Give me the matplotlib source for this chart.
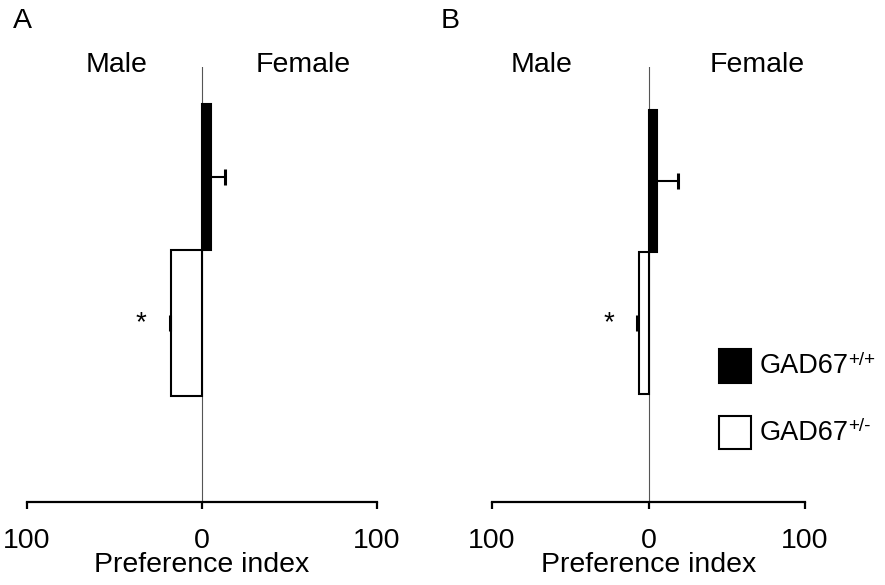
import matplotlib
matplotlib.use("Agg")
import matplotlib.pyplot as plt
from matplotlib.patches import Rectangle

plt.rcParams['font.family'] = ['Liberation Sans', 'DejaVu Sans']

# Data (preference index, negative = male side)
genotypes = ['GAD67', 'GAD67']
genotype_sup = ['+/+', '+/-']
bar_colors = ['black', 'white']
a_values = [5.0, -17.5]
a_err = [8.3, 1.0]
b_values = [5.2, -6.2]
b_err = [13.5, 1.3]
tick_vals = [-100, 0, 100]
tick_labels = ['100', '0', '100']

W, H = 885, 585
fig = plt.figure(figsize=(W / 100, H / 100), dpi=100)


def px_rect(x0, y0, x1, y1):
    return [x0 / W, 1 - y1 / H, (x1 - x0) / W, (y1 - y0) / H]


def draw_panel(ax, values, errs, ylim):
    ypos = list(range(len(values)))
    ax.barh(ypos, values, height=1.0, color=bar_colors, edgecolor='black',
            linewidth=1.5, zorder=3)
    for y, v, e in zip(ypos, values, errs):
        # one-sided error bar pointing away from zero, cap only at the end
        end = v + e if v > 0 else v - e
        ax.hlines(y, v, end, color='black', linewidth=1.5, zorder=4)
        ax.plot([end], [y], marker='|', markersize=11, markeredgewidth=2.2,
                color='black', zorder=4)
    ax.axvline(0, color='#555555', linewidth=0.8, zorder=2)
    ax.set_xlim(-100, 100)
    ax.set_ylim(*ylim)
    for s in ['left', 'top', 'right']:
        ax.spines[s].set_visible(False)
    ax.spines['bottom'].set_linewidth(1.6)
    ax.set_yticks([])
    ax.set_xticks(tick_vals)
    ax.set_xticklabels(tick_labels, fontsize=20.5)
    ax.tick_params(axis='x', direction='out', length=5, width=1.6, pad=13.5)
    ax.set_xlabel('Preference index', fontsize=20.5, labelpad=-1)


ax_a = fig.add_axes(px_rect(27, 67, 377, 502))
draw_panel(ax_a, a_values, a_err, (2.226, -0.753))
ax_a.text(-35, 1, '*', fontsize=20, ha='center', va='center')

ax_b = fig.add_axes(px_rect(492, 67, 805, 502))
draw_panel(ax_b, b_values, b_err, (2.26, -0.803))
ax_b.text(-25.6, 1, '*', fontsize=20, ha='center', va='center')

# panel letters and side labels
fig.text(13 / W, 1 - 21 / H, 'A', fontsize=20.5, ha='left', va='center')
fig.text(441 / W, 1 - 21 / H, 'B', fontsize=20.5, ha='left', va='center')
for x, s in [(117, 'Male'), (303, 'Female'), (542, 'Male'), (757, 'Female')]:
    fig.text(x / W, 1 - 65 / H, s, fontsize=20.5, ha='center', va='center')

# legend drawn by hand: square patch, label, superscript genotype
for (y0, y1), c, lab, sup in zip([(349, 383), (416, 449)], bar_colors,
                                 genotypes, genotype_sup):
    fig.add_artist(Rectangle((719 / W, 1 - y1 / H), 32 / W, (y1 - y0) / H,
                             transform=fig.transFigure, facecolor=c,
                             edgecolor='black', linewidth=1.5))
    t = fig.text(760 / W, 1 - (y0 + y1) / 2 / H, lab, fontsize=19.5,
                 ha='left', va='center')
    ax_b.annotate(sup, xy=(1, 1), xycoords=t, xytext=(-0.5, 1),
                  textcoords='offset points', fontsize=13.5,
                  ha='left', va='top', annotation_clip=False)

fig.savefig('out.png', dpi=100)
